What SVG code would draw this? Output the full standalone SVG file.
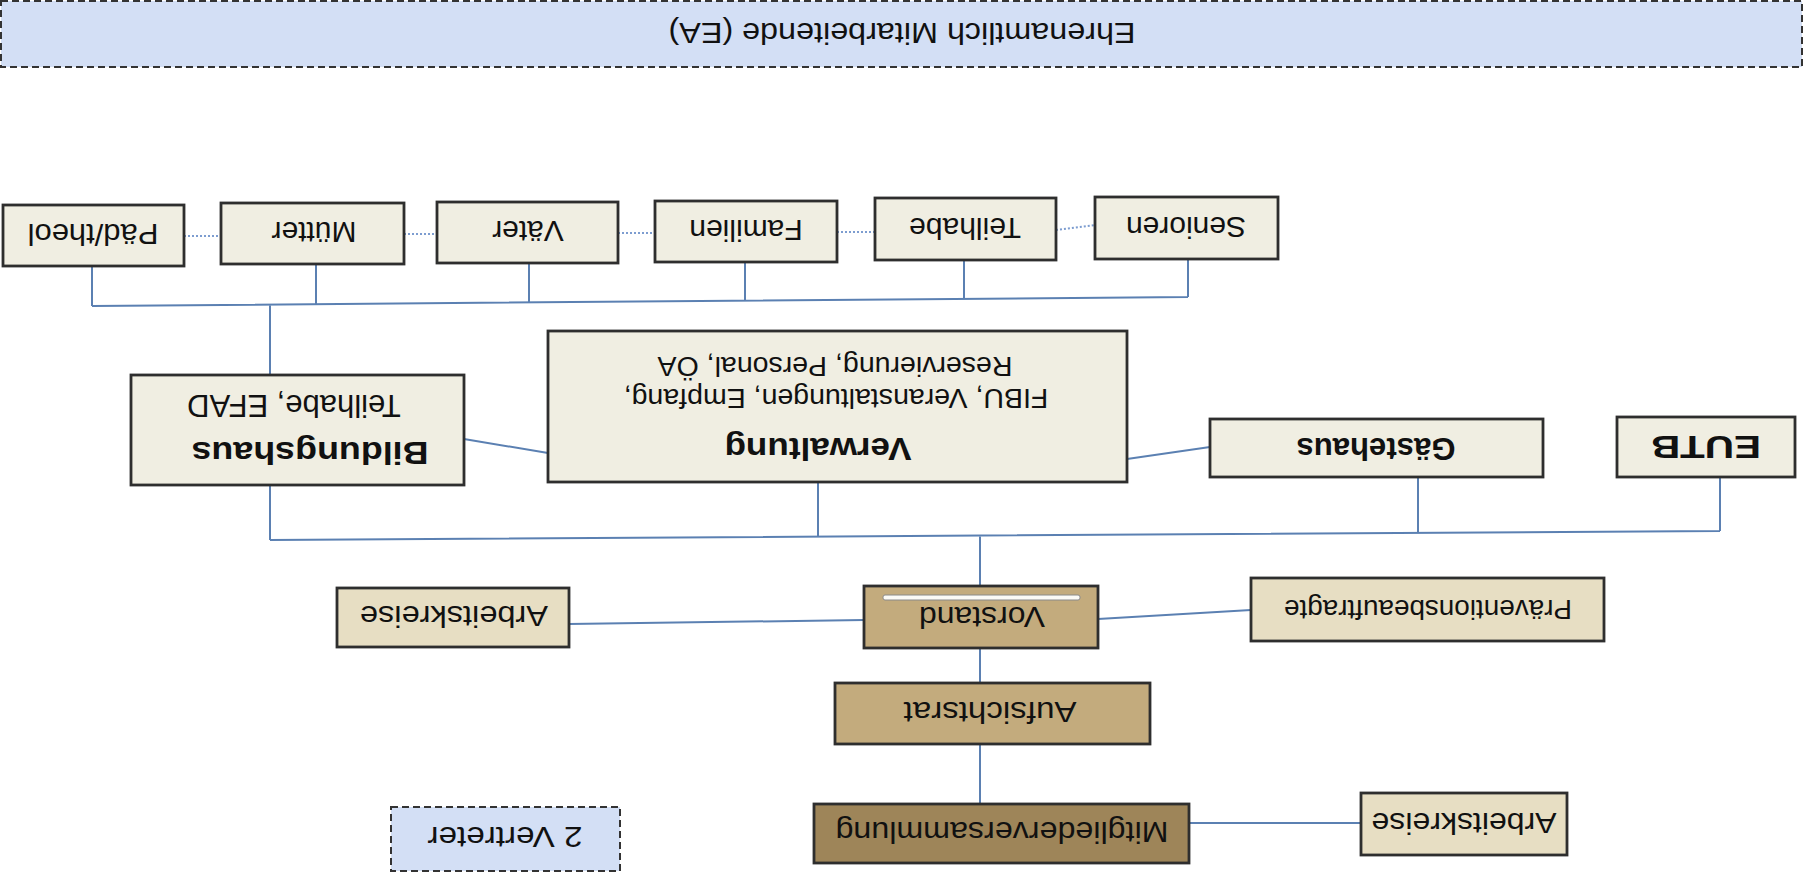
<svg xmlns="http://www.w3.org/2000/svg" width="1808" height="881" viewBox="0 0 1808 881">
<style>
.t{font-family:"Liberation Sans",Arial,sans-serif;fill:#111;text-anchor:middle}
.b{font-weight:bold}
.box{stroke:#2e2e2e;stroke-width:2.8}
.light{fill:#f0eee2}
.beige{fill:#e7dec3}
.tan{fill:#c3ab7d}
.dark{fill:#9e8559}
.blue{fill:#d3dff5;stroke:#333;stroke-width:2;stroke-dasharray:7 4}
.c{fill:none;stroke:#5b80b2;stroke-width:2}
.d{fill:none;stroke:#7d9dd0;stroke-width:2;stroke-dasharray:2 2}
</style>
<rect width="1808" height="881" fill="#fff"/>
<g id="banner">
<rect x="1" y="1" width="1801" height="66" class="blue"/>
<text class="t" x="902" y="45" font-size="30" textLength="467" lengthAdjust="spacingAndGlyphs" transform="rotate(180 902 34)">Ehrenamtlich Mitarbeitende (EA)</text>
</g>
<g id="connectors">
<path class="c" d="M92,306 L1188,297 M92,266 V306 M316,264 V304 M529,263 V303 M745,262 V301 M964,261 V299 M1188,259 V297 M270,305 V375"/>
<path class="d" d="M184,236 H221 M404,234 H437 M618,233 H655 M837,232 H875 M1056,230 L1095,225"/>
<path class="c" d="M464,439 L548,453 M1127,459 L1210,447"/>
<path class="c" d="M270,540 L1720,531 M270,485 V540 M818,482 V537 M1418,477 V533 M1720,477 V531 M980,536 V586"/>
<path class="c" d="M569,624 L864,620 M1098,619 L1251,610 M980,648 V683 M980,744 V804 M1189,823 H1361"/>
</g>
<g id="paedtheol"><rect class="box light" x="3" y="205" width="181" height="61"/><text class="t" x="93" y="246" font-size="30" textLength="131" lengthAdjust="spacingAndGlyphs" transform="rotate(180 93 235)">Päd/theol</text></g>
<g id="muetter"><rect class="box light" x="221" y="203" width="183" height="61"/><text class="t" x="314" y="244" font-size="30" transform="rotate(180 314 233)">Mütter</text></g>
<g id="vaeter"><rect class="box light" x="437" y="202" width="181" height="61"/><text class="t" x="528" y="243" font-size="30" transform="rotate(180 528 232)">Väter</text></g>
<g id="familien"><rect class="box light" x="655" y="201" width="182" height="61"/><text class="t" x="746" y="242" font-size="30" transform="rotate(180 746 231)">Familien</text></g>
<g id="teilhabe"><rect class="box light" x="875" y="198" width="181" height="62"/><text class="t" x="965" y="240" font-size="30" transform="rotate(180 965 229)">Teilhabe</text></g>
<g id="senioren"><rect class="box light" x="1095" y="197" width="183" height="62"/><text class="t" x="1186" y="239" font-size="30" transform="rotate(180 1186 228)">Senioren</text></g>
<g id="bildungshaus"><rect class="box light" x="131" y="375" width="333" height="110"/>
<text class="t b" x="310" y="464" font-size="31" textLength="237" lengthAdjust="spacingAndGlyphs" transform="rotate(180 310 453)">Bildungshaus</text>
<text class="t" x="294" y="417" font-size="31" transform="rotate(180 294 406)">Teilhabe, EFAD</text></g>
<g id="verwaltung"><rect class="box light" x="548" y="331" width="579" height="151"/>
<text class="t b" x="818" y="460" font-size="31" textLength="187" lengthAdjust="spacingAndGlyphs" transform="rotate(180 818 449)">Verwaltung</text>
<text class="t" x="836" y="409" font-size="28.5" transform="rotate(180 836 399)">FIBU, Veranstaltungen, Empfang,</text>
<text class="t" x="835" y="377" font-size="28.5" transform="rotate(180 835 367)">Reservierung, Personal, ÖA</text></g>
<g id="gaestehaus"><rect class="box light" x="1210" y="419" width="333" height="58"/><text class="t b" x="1376" y="460" font-size="31" textLength="159" lengthAdjust="spacingAndGlyphs" transform="rotate(180 1376 449)">Gästehaus</text></g>
<g id="eutb"><rect class="box light" x="1617" y="417" width="178" height="60"/><text class="t b" x="1706" y="458" font-size="31" textLength="110" lengthAdjust="spacingAndGlyphs" transform="rotate(180 1706 447)">EUTB</text></g>
<g id="arbeitskreise1"><rect class="box beige" x="337" y="588" width="232" height="59"/><text class="t" x="454" y="628" font-size="30" textLength="188" lengthAdjust="spacingAndGlyphs" transform="rotate(180 454 617)">Arbeitskreise</text></g>
<g id="vorstand"><rect class="box tan" x="864" y="586" width="234" height="62"/>
<rect x="883" y="595" width="197" height="5" rx="2" fill="#fbfaf5" stroke="#8a8a8a" stroke-width="1"/>
<text class="t" x="982" y="629" font-size="30" textLength="126" lengthAdjust="spacingAndGlyphs" transform="rotate(180 982 618)">Vorstand</text></g>
<g id="praevention"><rect class="box beige" x="1251" y="578" width="353" height="63"/><text class="t" x="1428" y="620" font-size="28" textLength="288" lengthAdjust="spacingAndGlyphs" transform="rotate(180 1428 610)">Präventionsbeauftragte</text></g>
<g id="aufsichtsrat"><rect class="box tan" x="835" y="683" width="315" height="61"/><text class="t" x="990" y="724" font-size="30" textLength="173" lengthAdjust="spacingAndGlyphs" transform="rotate(180 990 713)">Aufsichtsrat</text></g>
<g id="mitgliederversammlung"><rect class="box dark" x="814" y="804" width="375" height="59"/><text class="t" x="1002" y="844" font-size="30" textLength="333" lengthAdjust="spacingAndGlyphs" transform="rotate(180 1002 833)">Mitgliederversammlung</text></g>
<g id="arbeitskreise2"><rect class="box beige" x="1361" y="793" width="206" height="62"/><text class="t" x="1464" y="835" font-size="30" textLength="185" lengthAdjust="spacingAndGlyphs" transform="rotate(180 1464 824)">Arbeitskreise</text></g>
<g id="vertreter"><rect class="blue" x="391" y="807" width="229" height="64"/><text class="t" x="505" y="849" font-size="30" textLength="155" lengthAdjust="spacingAndGlyphs" transform="rotate(180 505 838)">2 Vertreter</text></g>
</svg>
